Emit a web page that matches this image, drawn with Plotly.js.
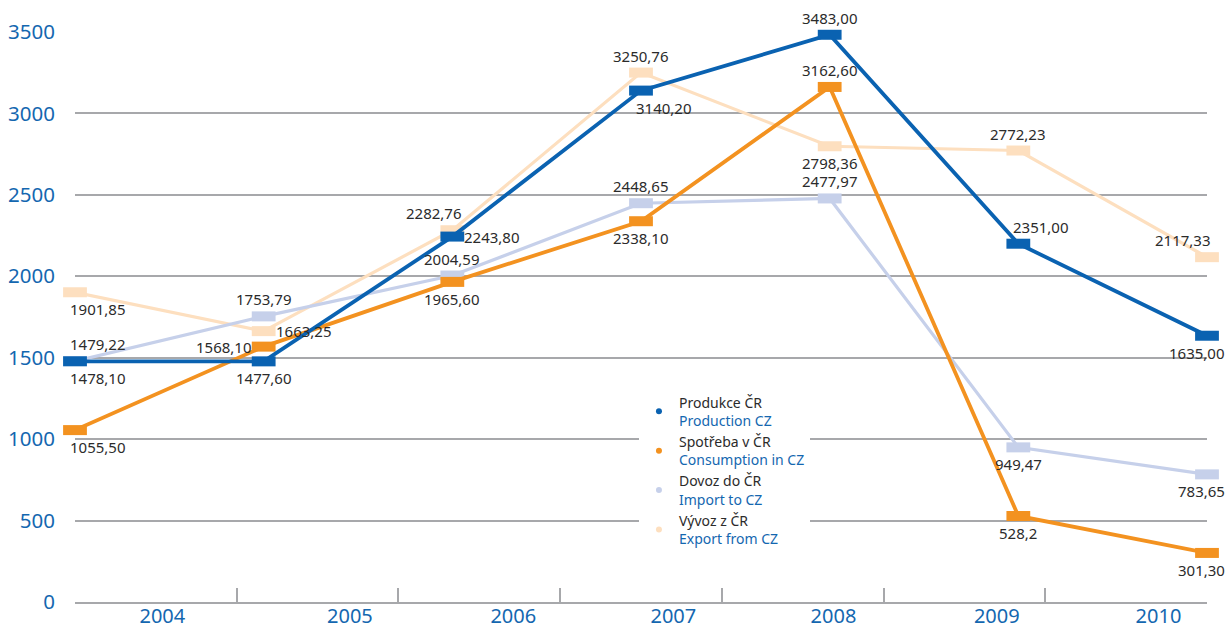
<!DOCTYPE html>
<html>
<head>
<meta charset="utf-8">
<script src="https://cdn.plot.ly/plotly-3.0.1.min.js"></script>
<style>html,body{margin:0;padding:0;background:#fff;}#chart{width:1228px;height:635px;}</style>
</head>
<body>
<div id="chart"></div>
<script>
// ---- data ----
const years = ['2004', '2005', '2006', '2007', '2008', '2009', '2010'];

const produkce = [1478.10, 1477.60, 2243.80, 3140.20, 3483.00, 2200.00, 1635.00];
const produkceLabels = ['1478,10', '1477,60', '2243,80', '3140,20', '3483,00', '2351,00', '1635,00'];

const spotreba = [1055.50, 1568.10, 1965.60, 2338.10, 3162.60, 528.20, 301.30];
const spotrebaLabels = ['1055,50', '1568,10', '1965,60', '2338,10', '3162,60', '528,2', '301,30'];

const dovoz = [1479.22, 1753.79, 2004.59, 2448.65, 2477.97, 949.47, 783.65];
const dovozLabels = ['1479,22', '1753,79', '2004,59', '2448,65', '2477,97', '949,47', '783,65'];

const vyvoz = [1901.85, 1663.25, 2282.76, 3250.76, 2798.36, 2772.23, 2117.33];
const vyvozLabels = ['1901,85', '1663,25', '2282,76', '3250,76', '2798,36', '2772,23', '2117,33'];

const yTicks = [0, 500, 1000, 1500, 2000, 2500, 3000, 3500];

// ---- layout helpers (positions of year labels within the year bands, as drawn) ----
const yearLabelPos = [0.04, 1.2, 2.21, 3.2, 4.19, 5.2, 6.2];
const bandEdges = years.map((_, i) => i - 0.5).concat([years.length - 0.5]);

// ---- styling ----
const BLUE_TXT = '#1467b0';
const series = [
  {cz: 'Produkce ČR', en: 'Production CZ', y: produkce, lab: produkceLabels, color: '#0a62b1', w: 3.8,
   pos: ['br', 'b', 'r', 'br', 't', 'tr', 'bL']},
  {cz: 'Spotřeba v ČR', en: 'Consumption in CZ', y: spotreba, lab: spotrebaLabels, color: '#f39220', w: 3.8,
   pos: ['br', 'l', 'b', 'b', 't', 'b', 'bL']},
  {cz: 'Dovoz do ČR', en: 'Import to CZ', y: dovoz, lab: dovozLabels, color: '#c6d0ea', w: 3.2,
   pos: ['tr', 't', 't', 't', 't', 'b', 'bL']},
  {cz: 'Vývoz z ČR', en: 'Export from CZ', y: vyvoz, lab: vyvozLabels, color: '#fddfbf', w: 3.2,
   pos: ['br', 'r', 'tl', 't', 'b', 't', 'tL']}
];

const xIdx = years.map((_, i) => i);
const traces = [];
const annotations = [];

const place = {
  t:  {xa: 'center', ya: 'bottom', xs: 0,   ys: 5},
  b:  {xa: 'center', ya: 'top',    xs: 0,   ys: -5},
  r:  {xa: 'left',   ya: 'middle', xs: 10,  ys: 0},
  l:  {xa: 'right',  ya: 'middle', xs: -10, ys: 0},
  tr: {xa: 'left',   ya: 'bottom', xs: -7,  ys: 5},
  br: {xa: 'left',   ya: 'top',    xs: -7,  ys: -5},
  tl: {xa: 'center', ya: 'bottom', xs: -18, ys: 5},
  bL: {xa: 'right',  ya: 'top',    xs: 20,  ys: -5},
  tL: {xa: 'right',  ya: 'bottom', xs: 6,   ys: 5}
};

// draw light series first so dark ones are on top
const order = [3, 2, 1, 0];
order.forEach(k => {
  const s = series[k];
  traces.push({
    type: 'scatter', mode: 'lines+markers', x: xIdx, y: s.y, xaxis: 'x', yaxis: 'y',
    line: {color: s.color, width: s.w},
    marker: {symbol: 'line-ew', size: 17, line: {color: s.color, width: 10}},
    showlegend: false, hoverinfo: 'skip', cliponaxis: false
  });
});
series.forEach(s => {
  s.lab.forEach((t, i) => {
    const p = place[s.pos[i]];
    annotations.push({
      x: xIdx[i], y: s.y[i], xref: 'x', yref: 'y', text: t, showarrow: false,
      xanchor: p.xa, yanchor: p.ya, xshift: p.xs, yshift: p.ys,
      font: {family: 'Noto Sans, sans-serif', size: 15, color: '#2b2b2b'}
    });
  });
});
// legend-only traces
series.forEach(s => {
  traces.push({
    type: 'scatter', mode: 'markers', x: [null], y: [null], xaxis: 'x', yaxis: 'y',
    marker: {symbol: 'circle', size: 6, color: s.color},
    name: s.cz + '<br><span style="color:' + BLUE_TXT + '">' + s.en + '</span>',
    showlegend: true, hoverinfo: 'skip'
  });
});
// axis carriers
['x2', 'x3'].forEach(ax => {
  traces.push({
    type: 'scatter', mode: 'markers', x: [0], y: [null], xaxis: ax, yaxis: 'y',
    showlegend: false, hoverinfo: 'skip'
  });
});

const layout = {
  width: 1228, height: 635,
  margin: {l: 75, r: 21, t: 32, b: 33},
  paper_bgcolor: '#ffffff', plot_bgcolor: '#ffffff',
  font: {family: 'Noto Sans, sans-serif', color: '#2b2b2b'},
  showlegend: true,
  legend: {
    x: 0.4982, y: 0.378, xanchor: 'left', yanchor: 'top',
    bgcolor: '#ffffff', borderwidth: 0,
    font: {family: 'Noto Sans, sans-serif', size: 14, color: '#2b2b2b'},
    itemwidth: 30, tracegroupgap: 0, traceorder: 'normal'
  },
  xaxis: {
    range: [0, 6], showgrid: false, zeroline: false, showline: false,
    showticklabels: false, ticks: '', fixedrange: true
  },
  // band boundaries (tick marks + axis line)
  xaxis2: {
    overlaying: 'x', side: 'bottom', anchor: 'y',
    range: [-0.5, years.length - 0.5], tickmode: 'array', tickvals: bandEdges,
    ticktext: bandEdges.map(() => ''), ticks: 'inside', ticklen: 14,
    tickwidth: 2, tickcolor: '#a7a8ab', showline: true, linecolor: '#a7a8ab', linewidth: 2,
    showgrid: false, zeroline: false, showticklabels: false
  },
  // year labels
  xaxis3: {
    overlaying: 'x', side: 'bottom', anchor: 'y',
    range: [-0.5, years.length - 0.5], tickmode: 'array', tickvals: yearLabelPos,
    ticktext: years, ticks: '', showline: false, showgrid: false, zeroline: false,
    tickfont: {family: 'Noto Sans, sans-serif', size: 20, color: BLUE_TXT}
  },
  yaxis: {
    range: [0, 3500], tickvals: yTicks, ticktext: yTicks.map(String),
    showgrid: true, gridcolor: '#a7a8ab', gridwidth: 2,
    zeroline: false, showline: false, ticks: '',
    ticklabelstandoff: 19,
    tickfont: {family: 'Noto Sans, sans-serif', size: 20.5, color: BLUE_TXT}
  },
  annotations: annotations
};

Plotly.newPlot('chart', traces, layout, {displayModeBar: false, staticPlot: true});
</script>
</body>
</html>
